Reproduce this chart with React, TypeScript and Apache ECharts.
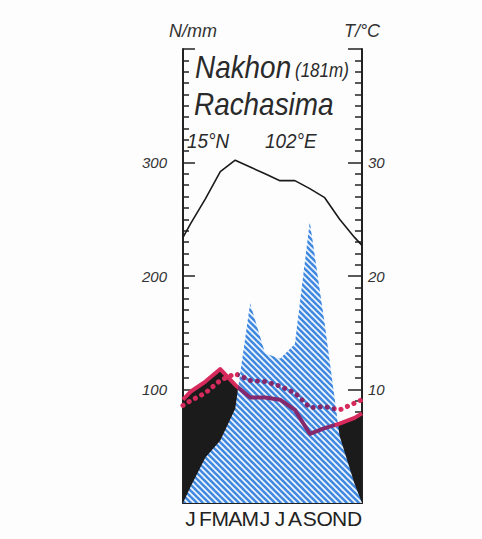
import React, { useEffect, useRef } from 'react';
import * as echarts from 'echarts';

// ---- data ----
const months = ['Jan', 'Feb', 'Mar', 'Apr', 'May', 'Jun', 'Jul', 'Aug', 'Sep', 'Oct', 'Nov', 'Dec'];
const temperature = [24.6, 26.8, 29.2, 30.2, 29.6, 29.0, 28.4, 28.4, 27.7, 26.9, 25.0, 23.4];
const temperatureEdges = [23.4, 22.7];
const precipitation = [14, 40, 55, 83, 176, 132, 127, 140, 248, 158, 59, 17];
const precipitationEdges = [0, 0];
const redSolid = [98, 107, 118, 104, 93, 93, 91, 82, 61, 66, 70, 75];
const redSolidEdges = [91, 79];
const redDotted = [90, 97, 108, 114, 108, 107, 103, 97, 84, 85, 82, 88];
const redDottedEdges = [86, 91];
const precipTicks = [100, 200, 300];
const tempTicks = [10, 20, 30];
const titleLines = ['Nakhon', '(181m)', 'Rachasima', '15°N', '102°E'];

const withEdges = (vals: number[], edges: number[]) => [
  [0, edges[0]],
  ...vals.map((v, i) => [i + 0.5, v]),
  [months.length, edges[1]],
];

const FONT = '"Liberation Sans", Arial, sans-serif';
const RED = '#d62a5c';
const PURPLE = '#86286c';

function makeHatch() {
  const s = 6;
  const c = document.createElement('canvas');
  c.width = s;
  c.height = s;
  const ctx = c.getContext('2d')!;
  ctx.fillStyle = '#f1f7fe';
  ctx.fillRect(0, 0, s, s);
  ctx.strokeStyle = '#4189e0';
  ctx.lineWidth = 2.6;
  for (const k of [-s, 0, s]) {
    ctx.beginPath();
    ctx.moveTo(k - 1, -1);
    ctx.lineTo(k + s + 1, s + 1);
    ctx.stroke();
  }
  return c;
}

function splitGradient(a: number, b: number) {
  return {
    type: 'linear', x: 0, y: 0, x2: 1, y2: 0,
    colorStops: [
      { offset: 0, color: RED },
      { offset: a, color: RED },
      { offset: a, color: PURPLE },
      { offset: b, color: PURPLE },
      { offset: b, color: RED },
      { offset: 1, color: RED },
    ],
  };
}

export default function App() {
  const ref = useRef<HTMLDivElement>(null);
  useEffect(() => {
    if (!ref.current) return;
    const chart = echarts.init(ref.current, null, { renderer: 'svg' });
    const axisColor = '#222';
    const titleStyle = (text: string, size: number) => ({
      text,
      fill: '#2a2a2a',
      fontSize: size,
      fontFamily: FONT,
      fontStyle: 'italic',
      align: 'left',
      verticalAlign: 'middle',
    });
    const option: any = {
      animation: false,
      grid: { left: 183, right: 120, top: 49, bottom: 36 },
      xAxis: [
        {
          type: 'value', min: 0, max: 12, interval: 1,
          axisLine: { show: true, onZero: false, lineStyle: { color: axisColor, width: 2 } },
          axisTick: { show: true, inside: true, length: 5, lineStyle: { color: axisColor, width: 1.5 } },
          axisLabel: { show: false },
          splitLine: { show: false },
        },
        {
          type: 'category', data: months, position: 'bottom', boundaryGap: true,
          axisLine: { show: false }, axisTick: { show: false }, splitLine: { show: false },
          axisLabel: {
            interval: 0, margin: 5, fontSize: 21, color: '#222', fontFamily: FONT,
            formatter: (v: string) => v.charAt(0),
          },
        },
      ],
      yAxis: [
        {
          type: 'value', min: 0, max: 400, interval: 100, position: 'left',
          name: 'N/mm', nameLocation: 'end', nameGap: 9,
          nameTextStyle: { fontSize: 18, fontStyle: 'italic', color: '#333', fontFamily: FONT, padding: [0, 0, 0, 20] },
          axisLine: { show: true, lineStyle: { color: axisColor, width: 2 } },
          axisTick: { show: true, inside: true, length: 12, lineStyle: { color: axisColor, width: 1.5 } },
          minorTick: { show: true, splitNumber: 10, length: 6, lineStyle: { color: axisColor, width: 1.5 } },
          axisLabel: {
            margin: 16, fontSize: 15, fontStyle: 'italic', color: '#333', fontFamily: FONT,
            formatter: (v: number) => (precipTicks.includes(v) ? String(v) : ''),
          },
          splitLine: { show: false },
        },
        {
          type: 'value', min: 0, max: 40, interval: 10, position: 'right',
          name: 'T/°C', nameLocation: 'end', nameGap: 9,
          nameTextStyle: { fontSize: 18, fontStyle: 'italic', color: '#333', fontFamily: FONT },
          axisLine: { show: true, lineStyle: { color: axisColor, width: 2 } },
          axisTick: { show: true, inside: true, length: 14, lineStyle: { color: axisColor, width: 1.5 } },
          minorTick: { show: true, splitNumber: 10, length: 7, lineStyle: { color: axisColor, width: 1.5 } },
          axisLabel: {
            margin: 6, fontSize: 15, fontStyle: 'italic', color: '#333', fontFamily: FONT,
            formatter: (v: number) => (tempTicks.includes(v) ? String(v) : ''),
          },
          splitLine: { show: false },
        },
      ],
      graphic: [
        { type: 'text', x: 195, y: 67, scaleX: 0.9, style: titleStyle(titleLines[0], 31) },
        { type: 'text', x: 295, y: 70, scaleX: 0.85, style: titleStyle(titleLines[1], 20) },
        { type: 'text', x: 194, y: 104, scaleX: 0.9, style: titleStyle(titleLines[2], 31) },
        { type: 'text', x: 187, y: 141, scaleX: 0.9, style: titleStyle(titleLines[3], 21) },
        { type: 'text', x: 265, y: 141, scaleX: 0.9, style: titleStyle(titleLines[4], 21) },
      ],
      series: [
        {
          type: 'line', data: withEdges(redSolid, redSolidEdges), symbol: 'none', silent: true,
          lineStyle: { width: 0 }, areaStyle: { color: '#1b1b1b', opacity: 1 }, z: 1,
        },
        {
          type: 'line', data: withEdges(precipitation, precipitationEdges), symbol: 'none', silent: true,
          lineStyle: { width: 0 }, areaStyle: { color: { image: makeHatch(), repeat: 'repeat' }, opacity: 1 }, z: 2,
        },
        {
          type: 'line', data: withEdges(redSolid, redSolidEdges), symbol: 'none', silent: true,
          lineStyle: { width: 4, color: splitGradient(3.7 / 12, 10.2 / 12), join: 'round' }, z: 3,
        },
        {
          type: 'line', data: withEdges(redDotted, redDottedEdges), symbol: 'none', silent: true,
          lineStyle: { width: 5, color: splitGradient(3.7 / 12, 10.2 / 12), type: [0.1, 7], cap: 'round' }, z: 4,
        },
        {
          type: 'line', data: withEdges(temperature, temperatureEdges), yAxisIndex: 1, symbol: 'none', silent: true,
          lineStyle: { width: 1.6, color: '#1a1a1a' }, z: 5,
        },
      ],
    };
    chart.setOption(option);
    return () => chart.dispose();
  }, []);
  return (
    <div
      ref={ref}
      style={{ position: 'fixed', left: 0, top: 0, width: 482, height: 539, background: '#fdfdfd' }}
    />
  );
}
